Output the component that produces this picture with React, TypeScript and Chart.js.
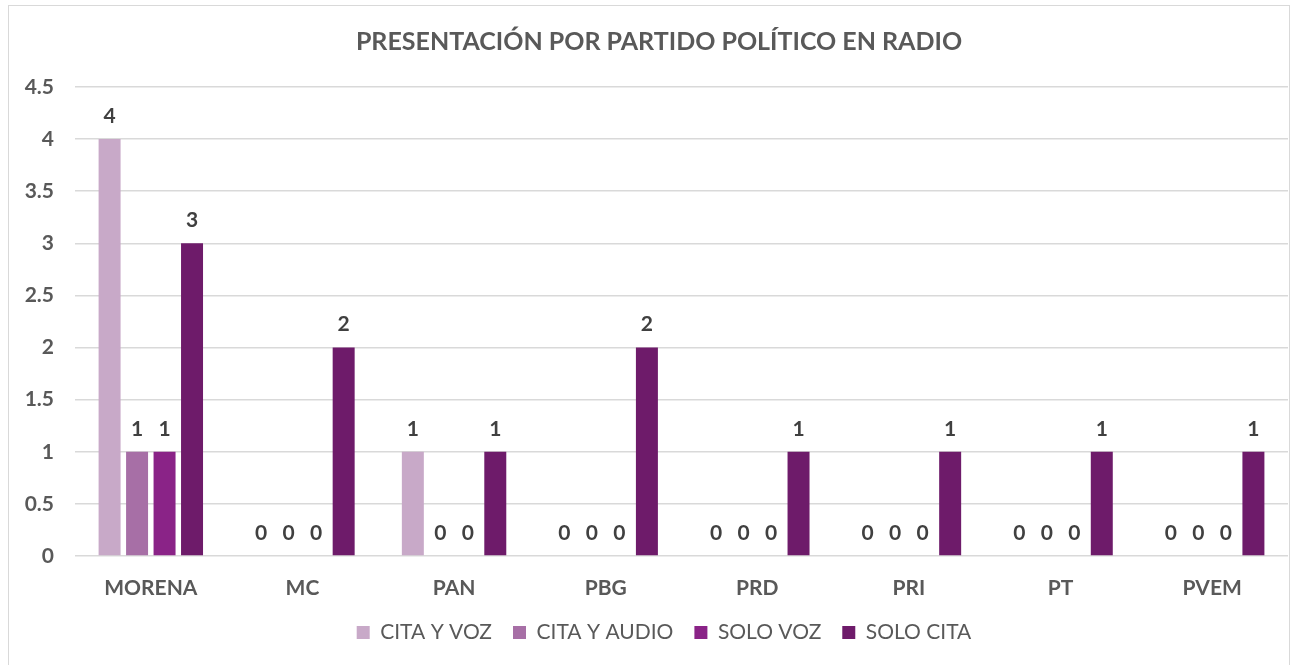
import React, { useEffect, useRef } from "react";
import { Chart, registerables } from "chart.js";

Chart.register(...registerables);

const categories = ["MORENA", "MC", "PAN", "PBG", "PRD", "PRI", "PT", "PVEM"];
const citaYVoz = [4, 0, 1, 0, 0, 0, 0, 0];
const citaYAudio = [1, 0, 0, 0, 0, 0, 0, 0];
const soloVoz = [1, 0, 0, 0, 0, 0, 0, 0];
const soloCita = [3, 2, 1, 2, 1, 1, 1, 1];
const seriesNames = ["CITA Y VOZ", "CITA Y AUDIO", "SOLO VOZ", "SOLO CITA"];
const seriesColors = ["#C8A9C8", "#A76FA6", "#8A2387", "#6E1B6A"];
const yTicks = [0, 0.5, 1, 1.5, 2, 2.5, 3, 3.5, 4, 4.5];

const FONT = "Lato, 'Open Sans', sans-serif";
const TEXT = "#595959";

const labelPlugin = {
  id: "valueLabels",
  afterLayout(chart: any) {
    const t = chart.titleBlock;
    if (t) {
      t.left += 15;
      t.right += 15;
    }
    const l = chart.legend;
    if (l) {
      l.left += 20;
      l.right += 20;
    }
  },
  afterDatasetsDraw(chart: any) {
    const ctx = chart.ctx;
    ctx.save();
    ctx.font = `bold 21px ${FONT}`;
    ctx.fillStyle = "#404040";
    ctx.textAlign = "center";
    ctx.textBaseline = "middle";
    chart.data.datasets.forEach((ds: any, i: number) => {
      const meta = chart.getDatasetMeta(i);
      meta.data.forEach((bar: any, j: number) => {
        ctx.fillText(String(ds.data[j]), bar.x, bar.y - 23);
      });
    });
    ctx.restore();
  },
};

export default function App() {
  const ref = useRef<HTMLCanvasElement>(null);
  useEffect(() => {
    document.body.style.margin = "0";
    const seriesData = [citaYVoz, citaYAudio, soloVoz, soloCita];
    const chart = new Chart(ref.current!, {
      type: "bar",
      data: {
        labels: categories,
        datasets: seriesData.map((d, i) => ({
          label: seriesNames[i],
          data: d,
          backgroundColor: seriesColors[i],
          borderWidth: 0,
          categoryPercentage: 0.725,
          barPercentage: 0.8,
        })),
      },
      options: {
        animation: false,
        responsive: false,
        maintainAspectRatio: false,
        layout: { padding: { left: 0, right: 5, top: 0, bottom: 12 } },
        plugins: {
          title: {
            display: true,
            text: "PRESENTACIÓN POR PARTIDO POLÍTICO EN RADIO",
            color: TEXT,
            font: { family: FONT, size: 25, weight: "bold" },
            padding: { top: 27, bottom: 30 },
          },
          legend: {
            position: "bottom",
            labels: {
              color: TEXT,
              font: { family: FONT, size: 21 },
              boxWidth: 13,
              boxHeight: 13,
              padding: 21,
            },
          },
          tooltip: { enabled: false },
        },
        scales: {
          x: {
            grid: { display: false, drawTicks: false },
            border: { display: false },
            afterFit(scale: any) {
              scale.height = 45;
            },
            ticks: {
              color: TEXT,
              font: { family: FONT, size: 21, weight: "bold" },
              padding: 20,
            },
          },
          y: {
            min: 0,
            max: 4.5,
            afterBuildTicks(scale: any) {
              scale.ticks = yTicks.map((v) => ({ value: v }));
            },
            afterFit(scale: any) {
              scale.width = 75;
            },
            grid: { color: "#D9D9D9", lineWidth: 1.5, drawTicks: false },
            border: { display: false },
            ticks: {
              color: TEXT,
              font: { family: FONT, size: 21, weight: "bold" },
              padding: 21,
              callback: (v: any) => String(v),
            },
          },
        },
      },
      plugins: [labelPlugin],
    });
    return () => chart.destroy();
  }, []);
  return (
    <div style={{ position: "relative", width: 1293, height: 665, background: "#fff" }}>
      <div
        style={{
          position: "absolute",
          left: 8,
          top: 5,
          width: 1282,
          height: 665,
          border: "1px solid #D9D9D9",
          boxSizing: "border-box",
        }}
      />
      <canvas
        ref={ref}
        width={1293}
        height={665}
        style={{ position: "absolute", left: 0, top: 0 }}
      />
    </div>
  );
}
